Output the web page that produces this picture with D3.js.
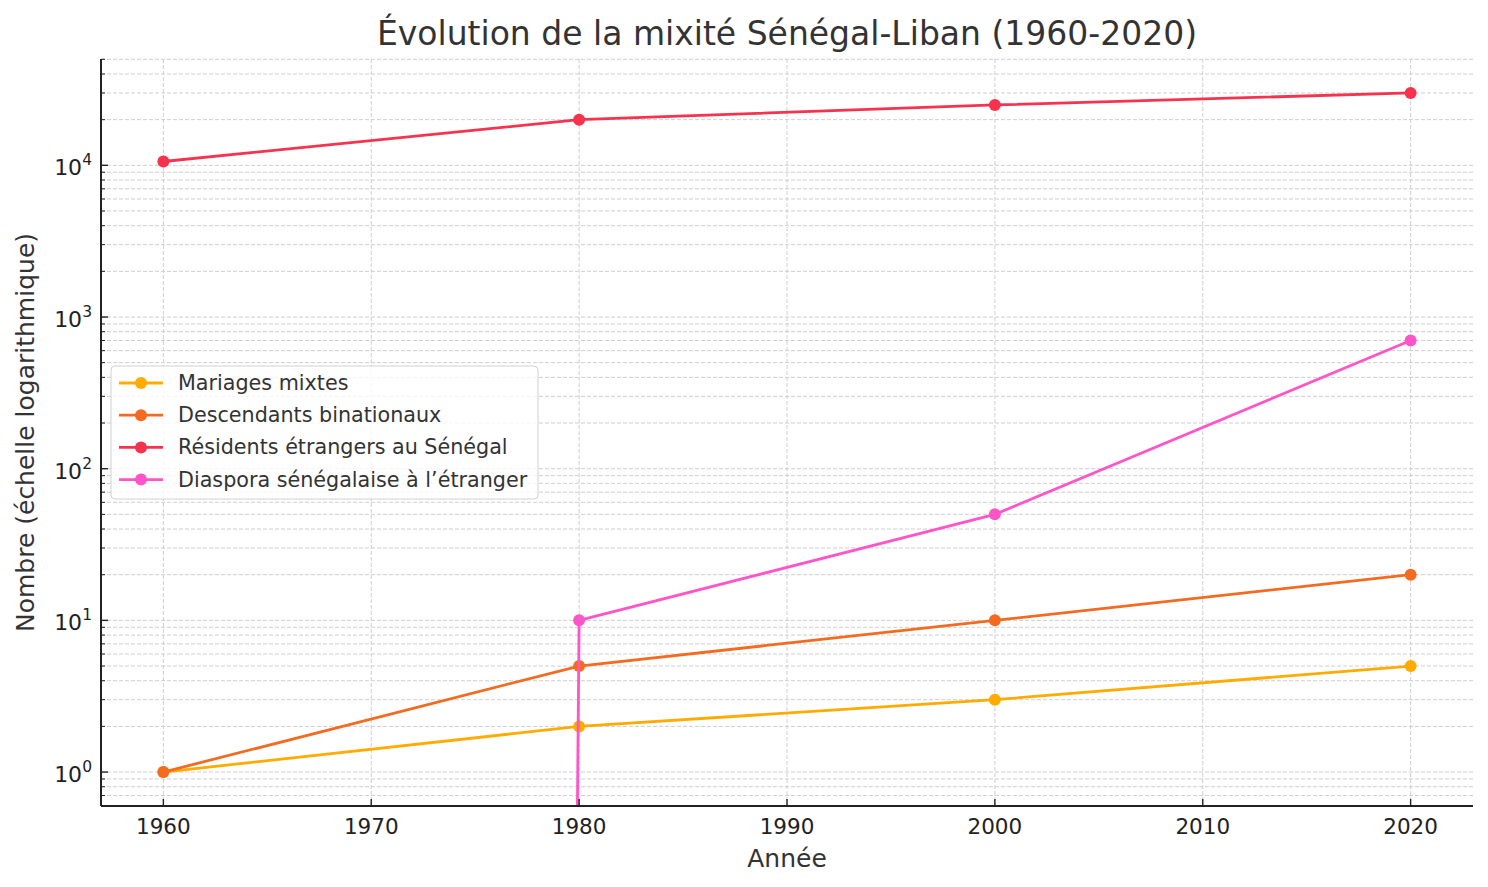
<!DOCTYPE html>
<html>
<head>
<meta charset="utf-8">
<script src="https://cdn.jsdelivr.net/npm/d3@7"></script>
<style>
  body { margin: 0; background: #fff; }
  svg { font-family: "DejaVu Sans", sans-serif; }
</style>
</head>
<body>
<div id="chart"></div>
<script>
// Data
const years = [1960, 1980, 2000, 2020];
const seriesNames = [
    'Mariages mixtes',
    'Descendants binationaux',
    'Résidents étrangers au Sénégal',
    'Diaspora sénégalaise à l\u2019étranger'
];
const mariages = [1, 2, 3, 5];
const descendants = [1, 5, 10, 20];
const residents = [10600, 20000, 25000, 30000];
const diaspora = [0, 10, 50, 700];
const colors = ['#ffab00', '#f26b21', '#f5334f', '#ff55c8'];
const xTicks = [1960, 1970, 1980, 1990, 2000, 2010, 2020];
const yMajor = [1, 10, 100, 1000, 10000];

const allSeries = [mariages, descendants, residents, diaspora];

const width = 1488, height = 887;
const margin = { top: 59, right: 15, bottom: 81, left: 101 };
const innerW = width - margin.left - margin.right;
const innerH = height - margin.top - margin.bottom;

const svg = d3.select('#chart').append('svg')
    .attr('width', width)
    .attr('height', height);

const g = svg.append('g')
    .attr('transform', `translate(${margin.left},${margin.top})`);

// scales (matplotlib-like 5% margins)
const x = d3.scaleLinear().domain([1957, 2023]).range([0, innerW]);
const logMax = Math.log10(30000), pad = logMax * 0.05;
const y = d3.scaleLog()
    .domain([Math.pow(10, -pad), Math.pow(10, logMax + pad)])
    .range([innerH, 0]);

// minor values for the log axis
const yMinor = [];
for (let e = -1; e <= 4; e++) {
    for (let m = 2; m <= 9; m++) {
        const v = m * Math.pow(10, e);
        if (v >= y.domain()[0] && v <= y.domain()[1]) yMinor.push(v);
    }
}

// grid
const grid = g.append('g').attr('class', 'grid')
    .attr('stroke', '#cfcfcf').attr('stroke-width', 1)
    .attr('stroke-dasharray', '4,2');

grid.selectAll('.hy').data(yMajor.concat(yMinor)).enter().append('line')
    .attr('x1', 0).attr('x2', innerW)
    .attr('y1', d => y(d)).attr('y2', d => y(d));

grid.selectAll('.vx').data(xTicks).enter().append('line')
    .attr('y1', 0).attr('y2', innerH)
    .attr('x1', d => x(d)).attr('x2', d => x(d));

// clip for the series
svg.append('defs').append('clipPath').attr('id', 'plotclip')
    .append('rect').attr('width', innerW).attr('height', innerH);

const plot = g.append('g').attr('clip-path', 'url(#plotclip)');

// zero values go off to -inf on a log scale
const yv = v => v > 0 ? y(v) : y(1e-300);

const line = d3.line()
    .x(d => x(d.year))
    .y(d => yv(d.value));

allSeries.forEach((vals, i) => {
    const pts = years.map((yr, j) => ({ year: yr, value: vals[j] }));
    plot.append('path')
        .datum(pts)
        .attr('d', line)
        .attr('fill', 'none')
        .attr('stroke', colors[i])
        .attr('stroke-width', 2.8);
    plot.selectAll(null)
        .data(pts.filter(d => d.value > 0))
        .enter().append('circle')
        .attr('cx', d => x(d.year))
        .attr('cy', d => y(d.value))
        .attr('r', 6)
        .attr('fill', colors[i]);
});

// axes (left and bottom spines, inward ticks)
const axes = g.append('g').attr('stroke', '#222');

axes.append('line').attr('x1', 0).attr('x2', 0).attr('y1', 0).attr('y2', innerH)
    .attr('stroke-width', 2);
axes.append('line').attr('x1', 0).attr('x2', innerW).attr('y1', innerH).attr('y2', innerH)
    .attr('stroke-width', 2);

axes.selectAll('.ymaj').data(yMajor).enter().append('line')
    .attr('x1', 0).attr('x2', 7)
    .attr('y1', d => y(d)).attr('y2', d => y(d))
    .attr('stroke-width', 1.4);
axes.selectAll('.ymin').data(yMinor).enter().append('line')
    .attr('x1', 0).attr('x2', 4)
    .attr('y1', d => y(d)).attr('y2', d => y(d))
    .attr('stroke-width', 1);
axes.selectAll('.xmaj').data(xTicks).enter().append('line')
    .attr('y1', innerH).attr('y2', innerH - 7)
    .attr('x1', d => x(d)).attr('x2', d => x(d))
    .attr('stroke-width', 1.4);

// tick labels
g.selectAll('.xlab').data(xTicks).enter().append('text')
    .attr('x', d => x(d))
    .attr('y', innerH + 28)
    .attr('text-anchor', 'middle')
    .attr('font-size', 21.5)
    .attr('fill', '#222')
    .text(d => d);

const ylab = g.selectAll('.ylab').data(yMajor).enter().append('text')
    .attr('x', -9)
    .attr('y', d => y(d) + 10)
    .attr('text-anchor', 'end')
    .attr('font-size', 22)
    .attr('fill', '#222');
ylab.append('tspan').text('10');
ylab.append('tspan')
    .attr('dy', -10)
    .attr('font-size', 15.5)
    .text(d => Math.round(Math.log10(d)));

// axis titles
g.append('text')
    .attr('x', innerW / 2)
    .attr('y', 867 - margin.top)
    .attr('text-anchor', 'middle')
    .attr('font-size', 25)
    .attr('fill', '#333')
    .text('Année');

g.append('text')
    .attr('transform', `translate(${34 - margin.left},${innerH / 2}) rotate(-90)`)
    .attr('text-anchor', 'middle')
    .attr('font-size', 25)
    .attr('fill', '#333')
    .text('Nombre (échelle logarithmique)');

// title
svg.append('text')
    .attr('x', margin.left + innerW / 2)
    .attr('y', 45)
    .attr('text-anchor', 'middle')
    .attr('font-size', 33)
    .attr('fill', '#333')
    .text('Évolution de la mixité Sénégal-Liban (1960-2020)');

// legend
const legend = g.append('g').attr('transform', 'translate(10, 307)');
legend.append('rect')
    .attr('width', 427).attr('height', 133)
    .attr('rx', 4)
    .attr('fill', 'white').attr('fill-opacity', 0.8)
    .attr('stroke', '#d0d0d0').attr('stroke-width', 1);

seriesNames.forEach((name, i) => {
    const row = legend.append('g')
        .attr('transform', `translate(0, ${17 + i * 32.2})`);
    row.append('line')
        .attr('x1', 8).attr('x2', 52)
        .attr('stroke', colors[i]).attr('stroke-width', 2.8);
    row.append('circle')
        .attr('cx', 30).attr('r', 6).attr('fill', colors[i]);
    row.append('text')
        .attr('x', 67).attr('y', 7)
        .attr('font-size', 20.7)
        .attr('fill', '#333')
        .text(name);
});
</script>
</body>
</html>
